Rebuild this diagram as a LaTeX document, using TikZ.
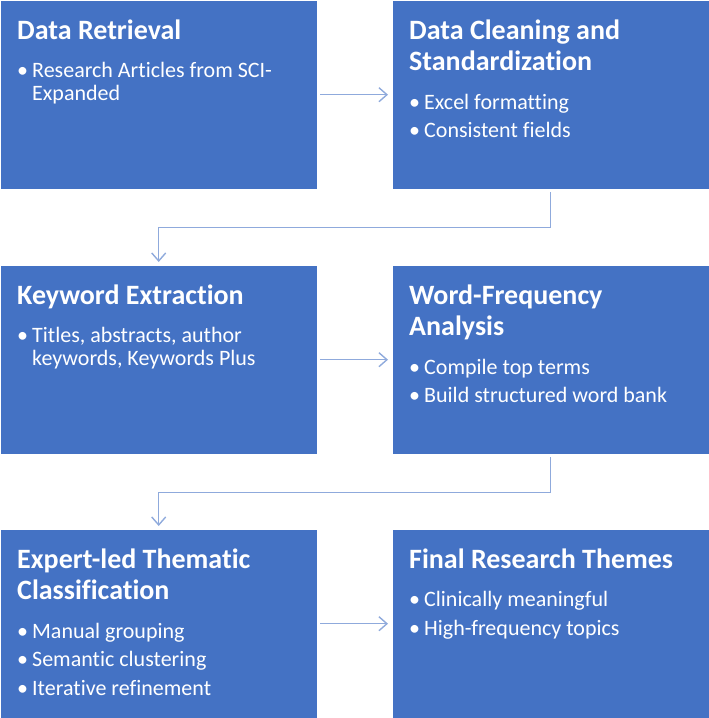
\documentclass[tikz,border=0pt]{standalone}
\usepackage{fontspec}
\setmainfont{Carlito}[Ligatures={NoCommon}]
\usepackage{tikz}
\usetikzlibrary{arrows.meta}
\definecolor{cstage}{HTML}{4472C4}
\definecolor{cflow}{HTML}{8FAADC}
\newcommand{\stagetext}[2]{%
  \parbox[t]{400pt}{\raggedright
    \fontsize{28}{31.7}\selectfont\bfseries #1\par
    \fontsize{22}{22.7}\selectfont\mdseries\vspace{10pt}#2}}
\newcommand{\itm}[1]{\par\vspace{5.8pt}\hangindent=15pt\hangafter=1\noindent\makebox[15pt][l]{\textbullet}#1\par}
\tikzset{
  stage/.style={draw=white, fill=cstage, minimum width=317pt, minimum height=189pt, inner sep=0pt, anchor=north west},
  lbl/.style={anchor=base west, inner sep=0pt, text=white},
  flow/.style={-{Straight Barb[length=8pt,width=14pt]}, draw=cflow, line width=1.4pt},
}
\begin{document}
\begin{tikzpicture}[x=1pt,y=1pt]
\useasboundingbox (0,0) rectangle (709,-718);
\foreach \i/\x/\y in {1/0/0,2/392/0,3/0/-265,4/392/-265,5/0/-529,6/392/-529}
  \node[stage] (b\i) at (\x,\y) {};
\node[lbl] (t1) at ([shift={(17,-39)}]b1.north west) {\stagetext{Data Retrieval}{\itm{Research Articles from SCI-\newline Expanded}}};
\node[lbl] (t2) at ([shift={(17,-39)}]b2.north west) {\stagetext{Data Cleaning and\newline Standardization}{\itm{Excel formatting}\itm{Consistent fields}}};
\node[lbl] (t3) at ([shift={(17,-39)}]b3.north west) {\stagetext{Keyword Extraction}{\itm{Titles, abstracts, author\newline keywords, Keywords Plus}}};
\node[lbl] (t4) at ([shift={(17,-39)}]b4.north west) {\stagetext{Word-Frequency\newline Analysis}{\itm{Compile top terms}\itm{Build structured word bank}}};
\node[lbl] (t5) at ([shift={(17,-39)}]b5.north west) {\stagetext{Expert-led Thematic\newline Classification}{\itm{Manual grouping}\itm{Semantic clustering}\itm{Iterative refinement}}};
\node[lbl] (t6) at ([shift={(17,-39)}]b6.north west) {\stagetext{Final Research Themes}{\itm{Clinically meaningful}\itm{High-frequency topics}}};
\draw[flow] ([xshift=3]b1.east) -- ([xshift=-4]b2.west);
\draw[flow] ([yshift=-3]b2.south) -- ([yshift=-38]b2.south) -| ([yshift=3]b3.north);
\draw[flow] ([xshift=3]b3.east) -- ([xshift=-4]b4.west);
\draw[flow] ([yshift=-3]b4.south) -- ([yshift=-38]b4.south) -| ([yshift=3]b5.north);
\draw[flow] ([xshift=3]b5.east) -- ([xshift=-4]b6.west);
\end{tikzpicture}
\end{document}
